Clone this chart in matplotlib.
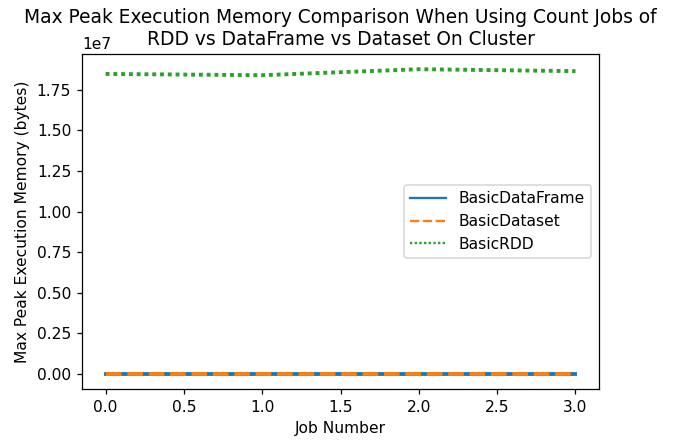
import matplotlib
matplotlib.use("Agg")
import matplotlib.pyplot as plt

jobs = [0, 1, 2, 3]
dataframe_mem = [0, 0, 0, 0]
dataset_mem = [0, 0, 0, 0]
rdd_mem = [1.848e7, 1.840e7, 1.877e7, 1.865e7]

DPI = 112
fig, ax = plt.subplots(figsize=(673 / DPI, 441 / DPI), dpi=DPI)
fig.subplots_adjust(left=0.122, right=0.890, top=0.8776, bottom=0.1179)

ax.plot(jobs, dataframe_mem, color='tab:blue', lw=2.5, label='BasicDataFrame')
ax.plot(jobs, dataset_mem, color='tab:orange', lw=2.5, dashes=(4, 1.5), label='BasicDataset')
ax.plot(jobs, rdd_mem, color='tab:green', lw=2.5, dashes=(1, 1), label='BasicRDD')

# fixed y so the title is not pushed up above the 1e7 offset text
ax.set_title('Max Peak Execution Memory Comparison When Using Count Jobs of\n'
             'RDD vs DataFrame vs Dataset On Cluster', fontsize=12, y=1.0)
ax.set_xlabel('Job Number')
ax.set_ylabel('Max Peak Execution Memory (bytes)')
leg = ax.legend(loc='center right', handlelength=2.3)
for h in leg.get_lines():
    h.set_linewidth(1.5)

fig.savefig('out.png', dpi=DPI)
